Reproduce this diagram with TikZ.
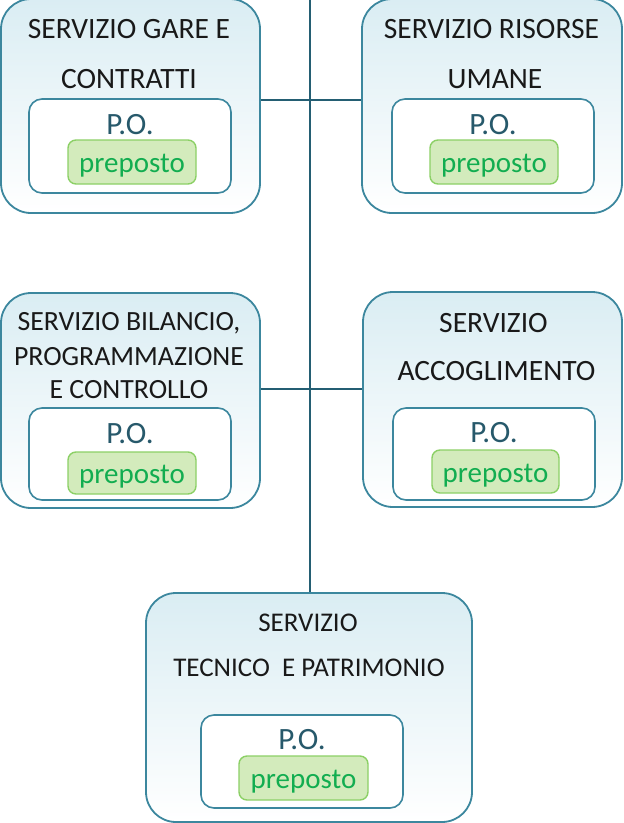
\documentclass[tikz,border=0pt]{standalone}
\usepackage{fontspec}
\setmainfont{Carlito}
\definecolor{boxborder}{HTML}{3C879E}
\definecolor{boxtop}{HTML}{DAEDF3}
\definecolor{conncol}{HTML}{245E73}
\definecolor{pocol}{HTML}{27596B}
\definecolor{greenfill}{HTML}{D3EBBC}
\definecolor{greenborder}{HTML}{8CD066}
\definecolor{greentext}{HTML}{12AD50}
\tikzset{
  outerbox/.style={draw=boxborder, line width=1.8pt, rounded corners=30pt,
    top color=boxtop, bottom color=white, inner sep=0pt},
  innerbox/.style={draw=boxborder, line width=1.6pt, rounded corners=13pt,
    fill=white, inner sep=0pt},
  greenbox/.style={draw=greenborder, line width=1.4pt, rounded corners=8pt,
    fill=greenfill, inner sep=0pt, text=greentext, text height=21pt, text depth=0pt,
    font=\fontsize{29}{32}\selectfont},
  potext/.style={text=pocol, inner sep=0pt, font=\fontsize{31}{33}\selectfont},
  title/.style={text=black!90, inner sep=0pt, font=\fontsize{29.5}{33}\selectfont},
  titlemid/.style={title, font=\fontsize{27.8}{31}\selectfont},
  titlesmall/.style={title, font=\fontsize{27}{30}\selectfont},
  conn/.style={draw=conncol, line width=1.8pt},
}
\begin{document}
\begin{tikzpicture}[x=1pt,y=-1pt]
\useasboundingbox (0,0) rectangle (624,823);
% outer boxes
\node[outerbox, minimum width=259pt, minimum height=214pt] (b1) at (130.5,106) {};
\node[outerbox, minimum width=260pt, minimum height=214pt] (b2) at (492,106) {};
\node[outerbox, minimum width=259pt, minimum height=215pt] (b3) at (130.5,400.5) {};
\node[outerbox, minimum width=259pt, minimum height=215pt] (b4) at (492.5,399.5) {};
\node[outerbox, minimum width=326pt, minimum height=229pt] (b5) at (309,707.5) {};
% connectors
\coordinate (top) at (310,0);
\draw[conn] (top) -- (b5.north -| top);
\draw[conn] (b1.east |- 0,100) -- (b2.west |- 0,100);
\draw[conn] (b3.east |- 0,389) -- (b4.west |- 0,389);
% titles
\node[title] (t1a) at (129,29) {SERVIZIO GARE E};
\node[title] (t1b) at (129,79) {CONTRATTI};
\node[title] (t2a) at (491.5,29) {SERVIZIO RISORSE};
\node[title] (t2b) at (495,79) {UMANE};
\node[titlemid] (t3a) at (129,323) {SERVIZIO BILANCIO,};
\node[titlemid] (t3b) at (129,356.5) {PROGRAMMAZIONE};
\node[titlemid] (t3c) at (129,390) {E CONTROLLO};
\node[title] (t4a) at (493.5,323) {SERVIZIO};
\node[title] (t4b) at (496.5,371) {ACCOGLIMENTO};
\node[titlesmall] (t5a) at (308,623) {SERVIZIO};
\node[titlesmall] (t5b) at (309,668) {TECNICO\ \ E PATRIMONIO};
% inner boxes
\node[innerbox, minimum width=202pt, minimum height=94pt] (i1) at (130,146) {};
\node[innerbox, minimum width=202pt, minimum height=94pt] (i2) at (493,146) {};
\node[innerbox, minimum width=202pt, minimum height=92pt] (i3) at (130,454) {};
\node[innerbox, minimum width=202pt, minimum height=92pt] (i4) at (494,454) {};
\node[innerbox, minimum width=202pt, minimum height=93pt] (i5) at (302,761.5) {};
% P.O.
\node[potext] (p1) at (130,125) {P.O.};
\node[potext] (p2) at (493,125) {P.O.};
\node[potext] (p3) at (130,434) {P.O.};
\node[potext] (p4) at (494,433) {P.O.};
\node[potext] (p5) at (302,740) {P.O.};
% preposto
\node[greenbox, minimum width=128pt, minimum height=44pt] (g1) at (132,162) {preposto};
\node[greenbox, minimum width=128pt, minimum height=44pt] (g2) at (494,162) {preposto};
\node[greenbox, minimum width=128pt, minimum height=42pt] (g3) at (132,473) {preposto};
\node[greenbox, minimum width=127pt, minimum height=43pt] (g4) at (495.5,471.5) {preposto};
\node[greenbox, minimum width=129pt, minimum height=44pt] (g5) at (303.5,778) {preposto};
\end{tikzpicture}
\end{document}
